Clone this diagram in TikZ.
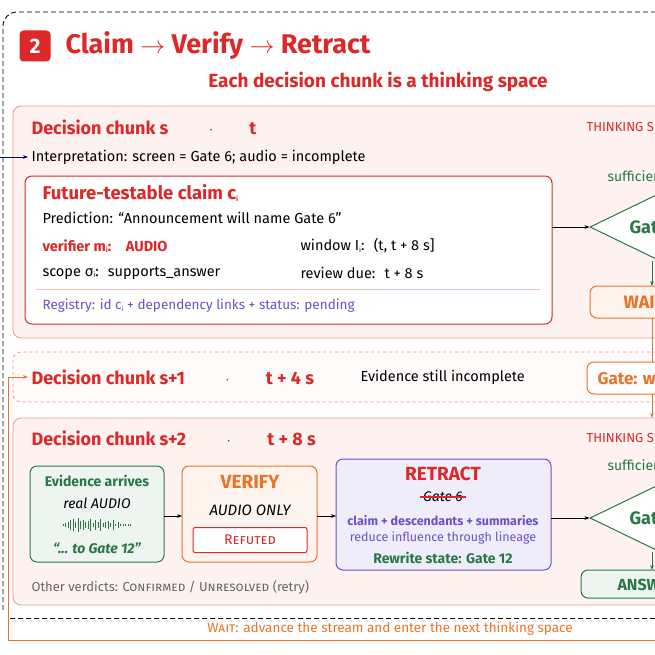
\documentclass[tikz,border=0pt]{standalone}
\usepackage{fontspec}
\setmainfont{Fira Sans}
\usetikzlibrary{shapes.geometric,arrows.meta,positioning}
\definecolor{chunkred}{RGB}{220,40,40}
\definecolor{chunkfill}{RGB}{253,242,240}
\definecolor{chunkline}{RGB}{240,150,140}
\definecolor{orng}{RGB}{235,115,40}
\definecolor{grn}{RGB}{40,120,70}
\definecolor{purp}{RGB}{110,80,200}
\colorlet{grnfill}{grn!8}
\colorlet{orngfill}{orng!8}
\colorlet{purpfill}{purp!10}
\newcommand{\sub}[1]{\raisebox{-0.2ex}{\scriptsize #1}}
\tikzset{
  chunk/.style={draw=chunkline, fill=chunkfill, rounded corners=8pt, line width=0.8pt},
  head/.style={anchor=west, text=chunkred, font=\bfseries\fontsize{18}{20}\selectfont},
  txt/.style={anchor=west, font=\fontsize{14.5}{16}\selectfont},
  card/.style={rounded corners=7pt, line width=1pt},
  flow/.style={-{Stealth[length=5pt]}, line width=0.8pt},
}
\begin{document}
\begin{tikzpicture}[x=1pt,y=-1pt]
    \useasboundingbox (0,0) rectangle (655,655);
    \clip (0,0) rectangle (655,655);

    % outer frame
    \draw[dash pattern=on 5pt off 3pt, line width=0.9pt, rounded corners=14pt] (3,610) -- (3,12) -- (720,12);
    \draw[dash pattern=on 5pt off 3pt, line width=0.9pt] (10,618) -- (720,618);

    % title
    \node[fill=chunkred, rounded corners=4pt, minimum size=31pt, text=white, font=\bfseries\fontsize{21}{23}\selectfont] (badge) at (35,46) {2};
    \node[anchor=west, text=chunkred, font=\bfseries\fontsize{27}{29}\selectfont] (title) at (62,46) {Claim $\rightarrow$ Verify $\rightarrow$ Retract};
    \node[text=chunkred, font=\bfseries\fontsize{19}{21}\selectfont] (sub) at (378,82) {Each decision chunk is a thinking space};

    % chunk s
    \draw[chunk] (13,106) rectangle (720,338);
    \node[head] (hs) at (28,127) {Decision chunk s \qquad$\cdot$\qquad t};
    \node[anchor=west, text=chunkred, font=\fontsize{13}{15}\selectfont] (ths) at (583,127) {THINKING SPACE};
    \node[txt] (interp) at (28,157) {Interpretation: screen = Gate 6; audio = incomplete};
    \coordinate (inL) at (0,157);
    \draw[flow, blue!60!black] (inL) -- (interp.west);

    \draw[card, draw=chunkred, fill=white] (25,176) rectangle (552,324);
    \coordinate (claimR) at (552,227);
    \node[anchor=west, text=chunkred, font=\bfseries\fontsize{18.5}{20}\selectfont] (ctitle) at (39,193) {Future-testable claim c\sub{i}};
    \node[txt] (pred) at (39,218) {Prediction: “Announcement will name Gate 6”};
    \node[txt, text=chunkred, font=\bfseries\fontsize{14.5}{16}\selectfont] (verif) at (39,246) {verifier m\sub{i}:\quad AUDIO};
    \node[txt] (win) at (297,246) {window I\sub{i}:\; (t, t + 8 s]};
    \node[txt] (scope) at (39,273) {scope σ\sub{i}:\; supports\_answer};
    \node[txt] (rev) at (297,273) {review due:\; t + 8 s};
    \draw[chunkline!60] (36,289) -- (540,289);
    \node[txt, text=purp, font=\fontsize{13.5}{15}\selectfont] (reg) at (39,306) {Registry: id c\sub{i} + dependency links + status: pending};

    \node[diamond, draw=grn, fill=white, line width=1pt, minimum width=140pt, minimum height=68pt, inner sep=0pt] (gate1) at (660,227) {};
    \node[anchor=west, text=grn, font=\bfseries\fontsize{18}{20}\selectfont] (g1t) at (626,227) {Gate?};
    \node[anchor=west, text=grn, font=\fontsize{14}{16}\selectfont] (suf1) at (604,176) {sufficient?};
    \draw[flow] (claimR) -- (gate1.west);
    \draw[card, draw=orng, fill=orngfill] (590,286) rectangle (720,318);
    \node[anchor=west, text=orng, font=\bfseries\fontsize{18}{20}\selectfont] (wait1) at (620,302) {WAIT};
    \coordinate (w1T) at (652,286);
    \draw[flow, grn] (652,261) -- (w1T);

    % chunk s+1
    \draw[chunk, dashed, fill=chunkfill!40] (13,352) rectangle (720,402);
    \node[head] (hs1) at (28,377) {Decision chunk s+1 \qquad$\cdot$\qquad t + 4 s};
    \node[txt] (still) at (357,377) {Evidence still incomplete};
    \draw[card, draw=orng, fill=white] (587,362) rectangle (720,394);
    \node[anchor=west, text=orng, font=\bfseries\fontsize{17}{19}\selectfont] (gate2) at (594,378) {Gate: wait};
    \draw[orng, line width=0.9pt] (652,318) -- (652,362);
    \coordinate (g2B) at (652,394);
    \coordinate (c2T) at (652,418);
    \draw[flow, orng] (g2B) -- (c2T);

    % loop back
    \draw[flow, orng] (720,640) -- (8,640) -- (8,377) -- (hs1.west);
    \node[text=orng, font=\fontsize{13.5}{15}\selectfont] (waitmsg) at (390,629) {\textsc{Wait}: advance the stream and enter the next thinking space};

    % chunk s+2
    \draw[chunk] (13,418) rectangle (720,605);
    \node[head] (hs2) at (28,438) {Decision chunk s+2 \qquad$\cdot$\qquad t + 8 s};
    \node[anchor=west, text=chunkred, font=\fontsize{13}{15}\selectfont] (ths2) at (583,438) {THINKING SPACE};
    \node[anchor=west, text=grn, font=\fontsize{14}{16}\selectfont] (suf2) at (604,465) {sufficient?};

    \draw[card, draw=grn, fill=grnfill] (30,466) rectangle (164,562);
    \node[text=grn, font=\bfseries\fontsize{14}{16}\selectfont] (ev1) at (97,481) {Evidence arrives};
    \node[font=\itshape\fontsize{14}{16}\selectfont] (ev2) at (97,503) {real AUDIO};
    \foreach \i/\h in {0/1,1/2,2/3,3/5,4/6,5/3,6/7,7/4,8/5,9/3,10/4,11/6,12/2,13/5,14/3,15/6,16/2,17/3,18/4,19/2,20/5,21/1,22/3,23/1,24/1,25/1,26/1,27/1}
      \draw[grn, line width=1pt] (63+\i*2.5,525-\h) -- (63+\i*2.5,525+\h);
    \node[text=grn, font=\bfseries\itshape\fontsize{14}{16}\selectfont] (ev3) at (97,548) {“... to Gate 12”};
    \coordinate (evR) at (164,516);

    \draw[card, draw=orng, fill=orngfill] (182,466) rectangle (317,562);
    \coordinate (vfL) at (182,516);
    \coordinate (vfR) at (317,516);
    \node[text=orng, font=\bfseries\fontsize{19}{21}\selectfont] (vf1) at (250,482) {VERIFY};
    \node[font=\itshape\fontsize{15}{17}\selectfont] (vf2) at (250,510) {AUDIO ONLY};
    \node[draw=chunkred, fill=white, line width=1pt, rounded corners=2pt, minimum width=114pt, minimum height=25pt, text=chunkred, font=\fontsize{14}{16}\selectfont] (refuted) at (250,540) {\textsc{Refuted}};
    \draw[flow] (evR) -- (vfL);

    \draw[card, draw=purp, fill=purpfill] (336,459) rectangle (551,570);
    \coordinate (rtL) at (336,516);
    \coordinate (rtR) at (551,518);
    \node[text=chunkred, font=\bfseries\fontsize{19}{21}\selectfont] (rt1) at (443,474) {RETRACT};
    \node[font=\itshape\fontsize{14}{16}\selectfont] (rt2) at (443,497) {Gate 6};
    \draw[chunkred, line width=1.2pt] (rt2.west) -- (rt2.east);
    \node[text=purp, font=\bfseries\fontsize{12.5}{14}\selectfont] (rt3) at (443,521) {claim + descendants + summaries};
    \node[text=purp, font=\fontsize{12.5}{14}\selectfont] (rt4) at (443,538) {reduce influence through lineage};
    \node[text=grn, font=\bfseries\fontsize{14}{16}\selectfont] (rt5) at (443,558) {Rewrite state: Gate 12};
    \draw[flow] (vfR) -- (rtL);

    \node[diamond, draw=grn, fill=white, line width=1pt, minimum width=140pt, minimum height=68pt, inner sep=0pt] (gate3) at (660,518) {};
    \node[anchor=west, text=grn, font=\bfseries\fontsize{18}{20}\selectfont] (g3t) at (626,518) {Gate?};
    \draw[flow] (rtR) -- (gate3.west);
    \draw[card, draw=grn, fill=grnfill] (581,570) rectangle (720,598);
    \node[anchor=west, text=grn, font=\bfseries\fontsize{16}{18}\selectfont] (ans) at (614,585) {ANSWER};
    \coordinate (ansT) at (652,570);
    \draw[flow, grn] (652,552) -- (ansT);

    \node[txt, text=black!60, font=\fontsize{13}{15}\selectfont] (other) at (28,587) {Other verdicts: \textsc{Confirmed} / \textsc{Unresolved} (retry)};
\end{tikzpicture}
\end{document}
